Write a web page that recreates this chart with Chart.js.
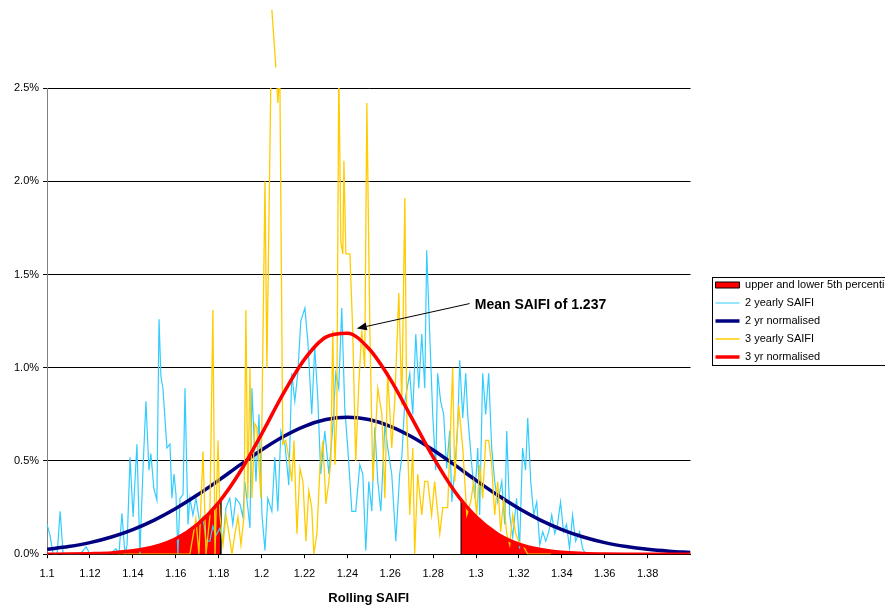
<!DOCTYPE html>
<html>
<head>
<meta charset="utf-8">
<script src="https://cdn.jsdelivr.net/npm/chart.js@4.4.1/dist/chart.umd.min.js"></script>
<style>
  html, body { margin: 0; padding: 0; background: #fff; }
  #wrap { width: 885px; height: 607px; }
</style>
</head>
<body>
<div id="wrap"><canvas id="saifiChart" width="885" height="607"></canvas></div>
<script>
'use strict';

// ============================================================
// DATA (values in %)
// ============================================================
const saifi2X = [1.1000,1.1014,1.1028,1.1047,1.1061,1.1075,1.1107,1.1154,1.1182,1.1200,1.1247,1.1293,1.1321,1.1335,1.1349,1.1363,1.1373,1.1387,1.1401,1.1419,
  1.1433,1.1447,1.1461,1.1475,1.1484,1.1498,1.1512,1.1522,1.1531,1.1540,1.1559,1.1573,1.1582,1.1592,1.1601,1.1610,1.1620,1.1634,1.1643,1.1657,
  1.1666,1.1680,1.1694,1.1713,1.1727,1.1741,1.1759,1.1773,1.1787,1.1806,1.1820,1.1834,1.1852,1.1866,1.1880,1.1899,1.1913,1.1922,1.1936,1.1946,
  1.1955,1.1974,1.1988,1.2002,1.2016,1.2029,1.2048,1.2062,1.2076,1.2090,1.2109,1.2127,1.2141,1.2155,1.2169,1.2183,1.2202,1.2216,1.2234,1.2248,
  1.2262,1.2276,1.2295,1.2314,1.2332,1.2346,1.2360,1.2374,1.2388,1.2402,1.2421,1.2439,1.2458,1.2472,1.2486,1.2500,1.2514,1.2528,1.2542,1.2556,
  1.2575,1.2588,1.2607,1.2626,1.2644,1.2654,1.2668,1.2691,1.2705,1.2719,1.2733,1.2747,1.2761,1.2770,1.2784,1.2798,1.2812,1.2821,1.2835,1.2849,
  1.2863,1.2877,1.2887,1.2901,1.2915,1.2924,1.2938,1.2952,1.2961,1.2980,1.2994,1.3008,1.3017,1.3031,1.3045,1.3059,1.3073,1.3087,1.3101,1.3120,
  1.3134,1.3143,1.3157,1.3171,1.3189,1.3203,1.3217,1.3231,1.3241,1.3255,1.3269,1.3283,1.3297,1.3311,1.3325,1.3339,1.3353,1.3367,1.3380,1.3394,
  1.3408,1.3422,1.3436,1.3450,1.3464,1.3483,1.3497,1.3511];
const saifi2Y = [0.16,0.10,0.00,0.00,0.23,0.00,0.00,0.00,0.04,0.00,0.00,0.00,0.03,0.00,0.22,0.00,0.05,0.52,0.20,0.59,
  0.00,0.45,0.82,0.45,0.54,0.35,0.29,1.26,0.95,0.89,0.57,0.59,0.30,0.43,0.32,0.00,0.30,0.32,0.89,0.16,
  0.30,0.21,0.30,0.16,0.20,0.07,0.07,0.15,0.10,0.14,0.07,0.25,0.30,0.16,0.30,0.27,0.20,0.39,0.25,0.14,
  0.89,0.39,0.75,0.21,0.02,0.30,0.23,0.52,0.23,0.66,0.59,0.37,0.97,0.82,0.97,1.25,1.32,1.14,0.75,1.11,
  0.84,0.43,0.66,0.43,0.68,0.97,0.89,1.32,0.78,0.57,0.23,0.23,0.48,0.43,0.02,0.39,0.23,0.68,0.39,0.23,
  0.70,0.57,0.43,0.07,0.43,0.52,0.82,0.97,0.75,1.18,0.89,1.18,0.89,1.63,1.18,0.75,0.45,0.97,0.82,0.75,
  0.46,0.66,0.28,0.45,0.70,1.04,0.73,0.97,0.75,0.48,0.30,0.57,0.21,0.97,0.75,0.97,0.57,0.39,0.28,0.39,
  0.16,0.66,0.21,0.09,0.30,0.03,0.57,0.45,0.73,0.39,0.21,0.28,0.05,0.12,0.07,0.12,0.21,0.11,0.16,0.28,
  0.12,0.16,0.03,0.21,0.07,0.12,0.03,0.00];

const saifi3X = [1.1300,1.1666,1.1694,1.1708,1.1727,1.1741,1.1759,1.1773,1.1783,1.1797,1.1806,1.1820,1.1834,1.1848,1.1862,1.1876,1.1890,1.1904,1.1918,1.1927,
  1.1936,1.1946,1.1955,1.1969,1.1978,1.1997,1.2016,1.2025,1.2048,1.2067,1.2076,1.2085,1.2099,1.2113,1.2127,1.2141,1.2151,1.2165,1.2179,1.2193,
  1.2207,1.2220,1.2234,1.2244,1.2258,1.2272,1.2286,1.2300,1.2314,1.2323,1.2332,1.2342,1.2351,1.2360,1.2370,1.2379,1.2384,1.2393,1.2412,1.2425,
  1.2439,1.2453,1.2467,1.2481,1.2491,1.2505,1.2519,1.2542,1.2561,1.2575,1.2588,1.2607,1.2621,1.2640,1.2654,1.2668,1.2677,1.2691,1.2705,1.2714,
  1.2728,1.2747,1.2761,1.2775,1.2793,1.2807,1.2831,1.2845,1.2868,1.2891,1.2901,1.2919,1.2938,1.2957,1.2975,1.2989,1.3003,1.3017,1.3031,1.3045,
  1.3059,1.3073,1.3087,1.3101,1.3115,1.3129,1.3143,1.3157,1.3171,1.3185,1.3199,1.3213,1.3227,1.3241,1.3350];
const saifi3Y = [0.00,0.00,0.19,0.00,0.55,0.00,0.20,1.31,0.00,0.61,0.21,0.05,0.21,0.11,0.00,0.11,0.20,0.05,0.20,1.31,
  0.30,1.00,0.30,0.70,0.68,0.30,2.00,1.00,2.92,2.61,2.42,2.60,0.59,0.61,0.52,0.39,0.61,0.11,0.46,0.39,
  0.07,0.34,0.25,0.00,0.11,0.46,0.61,0.27,0.39,0.50,1.20,0.48,0.75,2.60,1.67,1.61,2.11,1.61,1.61,1.20,
  0.50,0.90,1.20,1.00,2.42,1.20,0.39,0.89,0.75,0.30,0.98,0.57,0.82,1.40,0.80,1.91,0.75,0.21,0.57,0.00,
  0.43,0.21,0.39,0.39,0.21,0.39,0.11,0.25,0.25,1.00,0.39,0.80,0.57,0.21,0.28,0.39,0.21,0.48,0.30,0.61,
  0.61,0.48,0.21,0.39,0.12,0.30,0.11,0.05,0.21,0.11,0.07,0.05,0.03,0.00,0.00];

// the one stretch of the 3 yearly line that pokes out above the plot
const overshootX = [1.2048, 1.2067];
const overshootY = [2.92, 2.61];

const normX  = [1.10,1.11,1.12,1.13,1.14,1.15,1.16,1.17,1.18,1.19,1.20,1.21,1.22,1.23,1.24,1.25,1.26,1.27,1.28,1.29,1.30,1.31,1.32,1.33,1.34,1.35,1.36,1.37,1.38,1.39,1.40];
const norm2Y = [0.026,0.041,0.062,0.092,0.132,0.183,0.245,0.317,0.396,0.479,0.559,0.630,0.686,0.722,0.735,0.722,0.686,0.630,0.559,0.479,0.396,0.317,0.245,0.183,0.132,0.092,0.062,0.041,0.026,0.016,0.009];
const norm3Y = [0.000,0.001,0.003,0.007,0.018,0.040,0.083,0.159,0.277,0.442,0.644,0.858,1.045,1.164,1.185,1.103,0.939,0.731,0.520,0.338,0.201,0.109,0.054,0.025,0.010,0.004,0.001,0.000,0.000,0.000,0.000];

const tailLowX  = [1.10,1.11,1.12,1.13,1.14,1.15,1.16,1.17,1.18,1.181,1.181];
const tailLowY  = [0.000,0.001,0.003,0.007,0.018,0.040,0.083,0.159,0.277,0.290,0.000];
const tailHighX = [1.293,1.293,1.30,1.31,1.32,1.33,1.34,1.35,1.36,1.37,1.38,1.39,1.40];
const tailHighY = [0.000,0.290,0.201,0.109,0.054,0.025,0.010,0.004,0.001,0.000,0.000,0.000,0.000];

const xTicks = [1.10,1.12,1.14,1.16,1.18,1.20,1.22,1.24,1.26,1.28,1.30,1.32,1.34,1.36,1.38];
const yTicks = [0,0.5,1.0,1.5,2.0,2.5];

const noteText  = 'Mean SAIFI of 1.237';
const noteAt    = [1.2994, 1.335];
const arrowTail = [1.2970, 1.344];
const arrowTip  = [1.2444, 1.210];

const FONT = "'Liberation Sans', Arial, sans-serif";

const pts = (xs, ys) => xs.map((x, i) => ({ x, y: ys[i] }));

// ============================================================
// PLUGINS – legend placement/frame + mean annotation
// ============================================================
const legendShift = { dx: 18, dy: -26 };

const legendFrame = {
  id: 'legendFrame',
  afterLayout(chart) {
    // nudge the legend box towards the right edge, like the original sheet
    const lg = chart.legend;
    if (!lg) return;
    lg.left += legendShift.dx; lg.right += legendShift.dx;
    lg.top += legendShift.dy; lg.bottom += legendShift.dy;
  },
  afterDraw(chart) {
    const boxes = chart.legend && chart.legend.legendHitBoxes;
    if (!boxes || !boxes.length) return;
    const l = Math.min(...boxes.map(b => b.left)) - 4;
    const t = Math.min(...boxes.map(b => b.top)) - 3;
    const r = Math.max(...boxes.map(b => b.left + b.width)) + 6;
    const btm = Math.max(...boxes.map(b => b.top + b.height)) + 2;
    const ctx = chart.ctx;
    ctx.save();
    ctx.strokeStyle = '#000';
    ctx.lineWidth = 1;
    ctx.strokeRect(Math.round(l) + 0.5, Math.round(t) + 0.5, Math.round(r - l), Math.round(btm - t));
    ctx.restore();
  }
};

const meanNote = {
  id: 'meanNote',
  afterDatasetsDraw(chart) {
    const { ctx, scales: { x, y } } = chart;
    const x0 = x.getPixelForValue(arrowTail[0]), y0 = y.getPixelForValue(arrowTail[1]);
    const x1 = x.getPixelForValue(arrowTip[0]),  y1 = y.getPixelForValue(arrowTip[1]);
    const ang = Math.atan2(y1 - y0, x1 - x0);
    const head = 10, half = 4;
    ctx.save();
    ctx.strokeStyle = '#000';
    ctx.fillStyle = '#000';
    ctx.lineWidth = 1;
    ctx.beginPath();
    ctx.moveTo(x0, y0);
    ctx.lineTo(x1 - Math.cos(ang) * head, y1 - Math.sin(ang) * head);
    ctx.stroke();
    ctx.beginPath();
    ctx.moveTo(x1, y1);
    ctx.lineTo(x1 - Math.cos(ang) * head - Math.sin(ang) * half, y1 - Math.sin(ang) * head + Math.cos(ang) * half);
    ctx.lineTo(x1 - Math.cos(ang) * head + Math.sin(ang) * half, y1 - Math.sin(ang) * head - Math.cos(ang) * half);
    ctx.closePath();
    ctx.fill();
    ctx.font = 'bold 14px ' + FONT;
    ctx.textAlign = 'left';
    ctx.textBaseline = 'middle';
    ctx.fillText(noteText, x.getPixelForValue(noteAt[0]), y.getPixelForValue(noteAt[1]));
    ctx.restore();
  }
};

// ============================================================
// CHART
// ============================================================
const lineBase = { pointRadius: 0, pointHoverRadius: 0, fill: false, pointStyle: 'line' };

new Chart(document.getElementById('saifiChart'), {
  type: 'line',
  data: {
    datasets: [
      { label: 'upper and lower 5th percentile', data: pts(tailLowX, tailLowY), order: 10,
        backgroundColor: '#FF0000', borderColor: '#000', borderWidth: 1, fill: 'origin',
        pointRadius: 0, pointStyle: 'rect', tension: 0 },
      { ...lineBase, label: '2 yearly SAIFI', data: pts(saifi2X, saifi2Y), order: 5,
        borderColor: '#33CCFF', backgroundColor: '#33CCFF', borderWidth: 1.2, tension: 0 },
      { ...lineBase, label: '2 yr normalised', data: pts(normX, norm2Y), order: 4,
        borderColor: '#000080', backgroundColor: '#000080', borderWidth: 3.5, cubicInterpolationMode: 'monotone' },
      { ...lineBase, label: '3 yearly SAIFI', data: pts(saifi3X, saifi3Y), order: 3,
        borderColor: '#FFCC00', backgroundColor: '#FFCC00', borderWidth: 1.3, tension: 0 },
      { ...lineBase, label: '3 yr normalised', data: pts(normX, norm3Y), order: 1,
        borderColor: '#FF0000', backgroundColor: '#FF0000', borderWidth: 3.5, cubicInterpolationMode: 'monotone' },
      { label: 'tail high', noLegend: true, data: pts(tailHighX, tailHighY), order: 10,
        backgroundColor: '#FF0000', borderColor: '#000', borderWidth: 1, fill: 'origin',
        pointRadius: 0, tension: 0 },
      { ...lineBase, label: 'overshoot', noLegend: true, data: pts(overshootX, overshootY), order: 3,
        borderColor: '#FFCC00', borderWidth: 1.3, tension: 0, clip: false }
    ]
  },
  options: {
    responsive: false,
    animation: false,
    devicePixelRatio: 1,
    layout: { padding: { top: 88, left: 10, right: 0, bottom: 1 } },
    plugins: {
      tooltip: { enabled: false },
      legend: {
        position: 'right',
        labels: {
          usePointStyle: true, pointStyleWidth: 24, boxHeight: 6, padding: 7,
          color: '#000', font: { family: FONT, size: 11 },
          filter: (item, data) => !data.datasets[item.datasetIndex].noLegend,
          sort: (a, b) => a.datasetIndex - b.datasetIndex
        }
      }
    },
    scales: {
      x: {
        type: 'linear', min: 1.1, max: 1.4,
        afterBuildTicks: axis => { axis.ticks = xTicks.map(v => ({ value: v })); },
        ticks: { autoSkip: false, maxRotation: 0, padding: 9, color: '#000',
                 font: { family: FONT, size: 11 }, callback: v => String(+v.toFixed(2)) },
        grid: { drawOnChartArea: false, drawTicks: true, tickLength: 4, color: '#000' },
        border: { color: '#000', width: 1 },
        title: { display: true, text: 'Rolling SAIFI', color: '#000', padding: { top: 1, bottom: 0 },
                 font: { family: FONT, size: 13, weight: 'bold' } }
      },
      y: {
        min: 0, max: 2.5,
        afterBuildTicks: axis => { axis.ticks = yTicks.map(v => ({ value: v })); },
        ticks: { padding: 4, color: '#000', font: { family: FONT, size: 11 },
                 callback: v => v.toFixed(1) + '%' },
        grid: { color: '#000', lineWidth: 1, tickLength: 4 },
        border: { color: '#808080', width: 1 }
      }
    }
  },
  plugins: [meanNote, legendFrame]
});
</script>
</body>
</html>
